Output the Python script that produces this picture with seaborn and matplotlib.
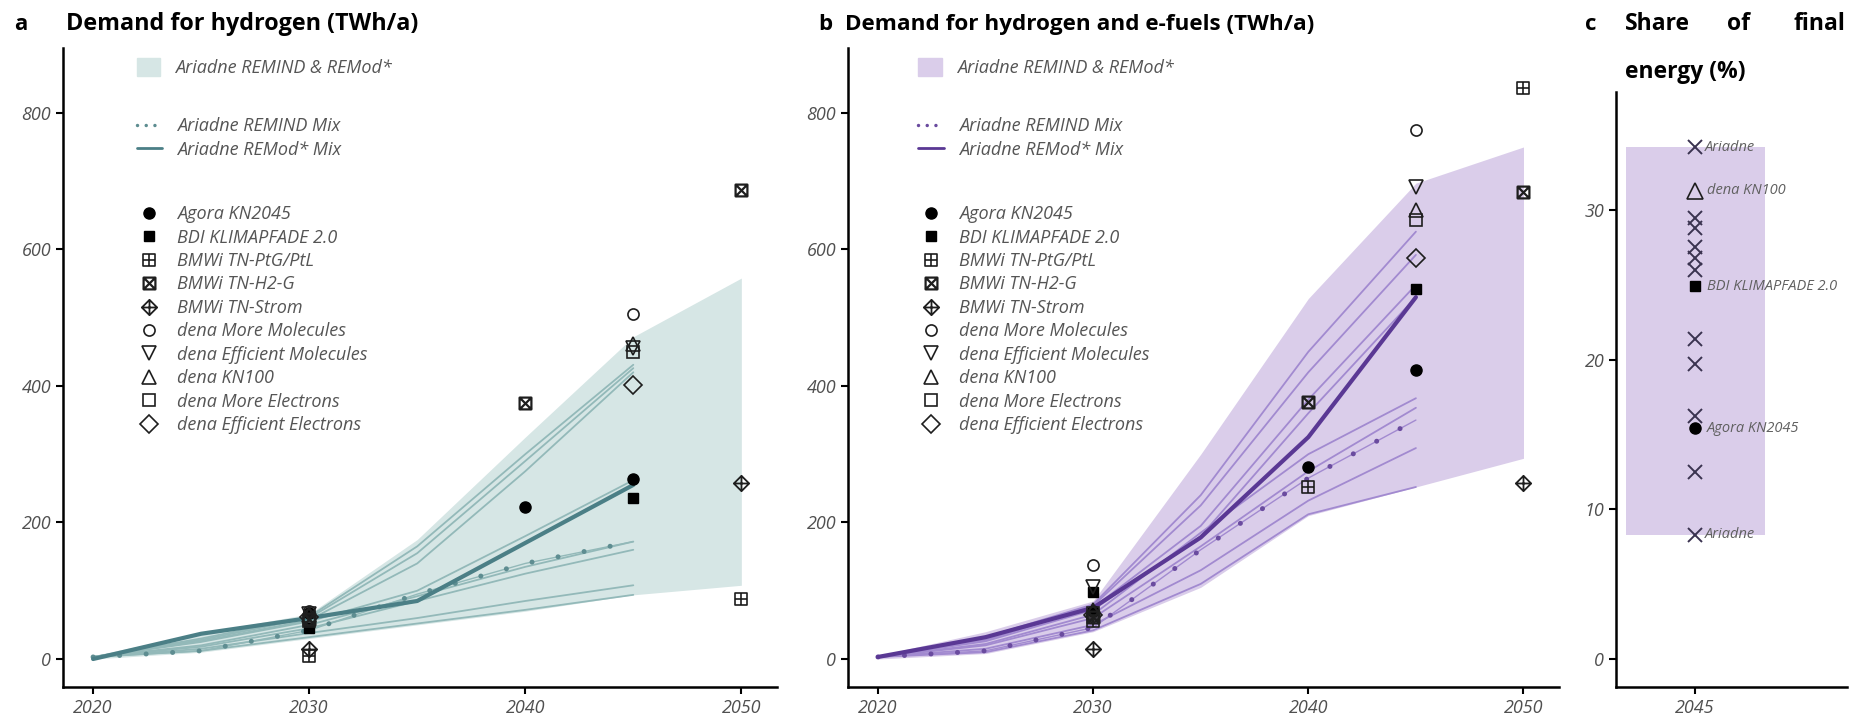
import numpy as np
import pandas as pd
import matplotlib
matplotlib.use("Agg")
import matplotlib.pyplot as plt
import seaborn as sns
from matplotlib.path import Path
from matplotlib.lines import Line2D
from matplotlib.patches import Patch

sns.set_theme(style="ticks")
plt.rcParams['font.family'] = ['Open Sans', 'DejaVu Sans']

# ---------------- data ----------------
line_years = [2020, 2025, 2030, 2035, 2040, 2045]
band_years = [2020, 2025, 2030, 2035, 2040, 2045, 2050]

# panel a: hydrogen
a_band_low = [0, 10, 30, 50, 70, 94, 108]
a_band_high = [5, 38, 66, 175, 325, 472, 558]
a_scenarios = [
    [3, 30, 62, 165, 300, 431],
    [3, 28, 60, 155, 290, 426],
    [3, 26, 57, 140, 275, 420],
    [3, 25, 55, 100, 180, 262],
    [3, 20, 50, 92, 135, 172],
    [3, 18, 45, 85, 125, 160],
    [3, 15, 38, 60, 85, 108],
    [3, 12, 32, 52, 72, 94],
]
a_remind_mix = [3, 12, 42, 95, 140, 172]
a_remod_mix = [0, 37, 60, 85, 170, 255]
a_points = {
    'Agora KN2045': ([2030, 2040, 2045], [68, 223, 264]),
    'BDI KLIMAPFADE 2.0': ([2030, 2045], [45, 236]),
    'BMWi TN-PtG/PtL': ([2030, 2050], [5, 88]),
    'BMWi TN-H2-G': ([2030, 2040, 2050], [58, 375, 687]),
    'BMWi TN-Strom': ([2030, 2050], [15, 258]),
    'dena More Molecules': ([2030, 2045], [70, 505]),
    'dena Efficient Molecules': ([2030, 2045], [66, 455]),
    'dena KN100': ([2030, 2045], [65, 462]),
    'dena More Electrons': ([2030, 2045], [55, 450]),
    'dena Efficient Electrons': ([2030, 2045], [62, 402]),
}

# panel b: hydrogen and e-fuels
b_band_low = [0, 8, 40, 105, 210, 252, 294]
b_band_high = [5, 40, 85, 300, 528, 697, 750]
b_scenarios = [
    [3, 32, 80, 240, 450, 626],
    [3, 30, 78, 225, 420, 592],
    [3, 28, 75, 195, 380, 548],
    [3, 26, 72, 180, 360, 530],
    [3, 22, 65, 185, 300, 382],
    [3, 20, 60, 165, 275, 368],
    [3, 15, 50, 130, 232, 309],
    [3, 10, 42, 110, 212, 252],
]
b_remind_mix = [3, 12, 46, 160, 265, 350]
b_remod_mix = [3, 32, 75, 178, 325, 530]
b_points = {
    'Agora KN2045': ([2030, 2040, 2045], [70, 281, 423]),
    'BDI KLIMAPFADE 2.0': ([2030, 2045], [98, 542]),
    'BMWi TN-PtG/PtL': ([2030, 2040, 2050], [55, 252, 837]),
    'BMWi TN-H2-G': ([2030, 2040, 2050], [62, 376, 684]),
    'BMWi TN-Strom': ([2030, 2050], [15, 258]),
    'dena More Molecules': ([2030, 2045], [138, 775]),
    'dena Efficient Molecules': ([2030, 2045], [105, 692]),
    'dena KN100': ([2030, 2045], [72, 658]),
    'dena More Electrons': ([2030, 2045], [68, 643]),
    'dena Efficient Electrons': ([2030, 2045], [65, 587]),
}

# panel c: share of final energy in 2045
c_band = [8.3, 34.2]
c_ariadne = [34.2, 29.5, 28.8, 27.5, 26.8, 26.0, 21.4, 19.7, 16.2, 12.5, 8.3]
c_dena_kn100 = 31.3
c_bdi = 24.9
c_agora = 15.4

# ---------------- marker shapes ----------------
M, L, C = Path.MOVETO, Path.LINETO, Path.CLOSEPOLY
sq_plus = Path([(-1, -1), (1, -1), (1, 1), (-1, 1), (-1, -1), (0, -1), (0, 1), (-1, 0), (1, 0)],
               [M, L, L, L, C, M, L, M, L])
sq_cross = Path([(-1, -1), (1, -1), (1, 1), (-1, 1), (-1, -1), (-1, -1), (1, 1), (-1, 1), (1, -1)],
                [M, L, L, L, C, M, L, M, L])
dia_plus = Path([(0, -1), (1, 0), (0, 1), (-1, 0), (0, -1), (0, -1), (0, 1), (-1, 0), (1, 0)],
                [M, L, L, L, C, M, L, M, L])

ec = '#1e1e1e'
marker_styles = {
    'Agora KN2045': dict(marker='o', ms=8, mfc='black', mec='black'),
    'BDI KLIMAPFADE 2.0': dict(marker='s', ms=7.5, mfc='black', mec='black'),
    'BMWi TN-PtG/PtL': dict(marker=sq_plus, ms=8.5, mfc='none', mec=ec, mew=1.2),
    'BMWi TN-H2-G': dict(marker=sq_cross, ms=8.5, mfc='none', mec=ec, mew=1.6),
    'BMWi TN-Strom': dict(marker=dia_plus, ms=11, mfc='none', mec=ec, mew=1.3),
    'dena More Molecules': dict(marker='o', ms=8, mfc='none', mec=ec, mew=1.2),
    'dena Efficient Molecules': dict(marker='v', ms=10, mfc='none', mec=ec, mew=1.2),
    'dena KN100': dict(marker='^', ms=10, mfc='none', mec=ec, mew=1.2),
    'dena More Electrons': dict(marker='s', ms=8.5, mfc='none', mec=ec, mew=1.2),
    'dena Efficient Electrons': dict(marker='D', ms=9, mfc='none', mec=ec, mew=1.2),
}

tick_col = '#505050'


def style_axis(ax):
    for s in ['top', 'right']:
        ax.spines[s].set_visible(False)
    for s in ['left', 'bottom']:
        ax.spines[s].set_linewidth(1.8)
        ax.spines[s].set_color('black')
    ax.tick_params(direction='out', length=5, width=1.5, colors='black',
                   labelcolor=tick_col, labelsize=13)
    for lab in ax.get_xticklabels() + ax.get_yticklabels():
        lab.set_style('italic')
    ax.set_xlabel('')
    ax.set_ylabel('')


def draw_panel(ax, band_low, band_high, scenarios, remind, remod, points,
               band_col, thin_col, mix_col, dot_col, x0):
    ax.fill_between(band_years, band_low, band_high, color=band_col, lw=0, zorder=1)
    df = pd.DataFrame([(i, y, v) for i, s in enumerate(scenarios) for y, v in zip(line_years, s)],
                      columns=['scen', 'year', 'value'])
    sns.lineplot(data=df, x='year', y='value', units='scen', estimator=None,
                 color=thin_col, lw=1.3, ax=ax, legend=False, zorder=2)
    ax.plot(line_years, remind, color=thin_col, lw=1.0, zorder=3)
    ax.plot(line_years, remind, color=dot_col, lw=3.6, linestyle=(0, (0.01, 5.3)),
            dash_capstyle='round', zorder=3)
    sns.lineplot(x=line_years, y=remod, color=mix_col, lw=3.0, ax=ax, zorder=4)
    for name, (xs, ys) in points.items():
        ax.plot(xs, ys, ls='none', zorder=6, **marker_styles[name])

    ax.set_xlim(2020 - 30 / 21.55, 2051.65)
    ax.set_ylim(-41, 895)
    ax.set_xticks([2020, 2030, 2040, 2050])
    ax.set_yticks([0, 200, 400, 600, 800])
    style_axis(ax)

    leg_kw = dict(frameon=False, prop={'size': 13, 'style': 'italic'}, labelcolor='#555555',
                  handletextpad=0.85, borderpad=0, borderaxespad=0,
                  labelspacing=0.3, loc='center left')
    l1 = ax.legend([Patch(color=band_col)], ['Ariadne REMIND & REMod*'],
                   bbox_to_anchor=(x0, 0.969), handleheight=1.1, handlelength=1.3, **leg_kw)
    ax.add_artist(l1)
    l2 = ax.legend([Line2D([], [], color=dot_col, lw=2.5, linestyle=(0, (0.01, 2.5)), dash_capstyle='round'),
                    Line2D([], [], color=mix_col, lw=2.0)],
                   ['Ariadne REMIND Mix', 'Ariadne REMod* Mix'],
                   bbox_to_anchor=(x0, 0.859), handlelength=1.4, **leg_kw)
    ax.add_artist(l2)
    handles = [Line2D([], [], ls='none', **marker_styles[n]) for n in points]
    ax.legend(handles, list(points), bbox_to_anchor=(x0, 0.575), handlelength=1.4, **leg_kw)


fig = plt.figure(figsize=(18.52, 7.23), dpi=100)
W, H = 1852, 723
ax_a = fig.add_axes([63 / W, 36 / H, 714 / W, 639 / H])
ax_b = fig.add_axes([848 / W, 36 / H, 711 / W, 639 / H])
ax_c = fig.add_axes([1616 / W, 36 / H, 231 / W, 595 / H])

draw_panel(ax_a, a_band_low, a_band_high, a_scenarios, a_remind_mix, a_remod_mix, a_points,
           '#d6e6e5', '#93b9b9', '#4b7f86', '#5e8d91', 0.103)
draw_panel(ax_b, b_band_low, b_band_high, b_scenarios, b_remind_mix, b_remod_mix, b_points,
           '#dacdea', '#a28ad0', '#5a3894', '#6a4b9f', 0.099)

# panel c
ax_c.fill_between([-0.69, 0.70], c_band[0], c_band[1], color='#dacdea', lw=0, zorder=1)
ax_c.plot([0] * len(c_ariadne), c_ariadne, ls='none', marker='x', ms=10, mew=1.4,
          color='#3a3350', zorder=4)
ax_c.plot([0], [c_dena_kn100], ls='none', zorder=5, **dict(marker_styles['dena KN100'], ms=11))
ax_c.plot([0], [c_bdi], ls='none', zorder=5, **marker_styles['BDI KLIMAPFADE 2.0'])
ax_c.plot([0], [c_agora], ls='none', zorder=5, **marker_styles['Agora KN2045'])
ann = dict(fontsize=10.5, style='italic', color='#606060', va='center', ha='left')
ax_c.text(0.1, c_ariadne[0], 'Ariadne', **ann)
ax_c.text(0.1, c_ariadne[-1], 'Ariadne', **ann)
ax_c.text(0.12, c_dena_kn100, 'dena KN100', **ann)
ax_c.text(0.12, c_bdi, 'BDI KLIMAPFADE 2.0', **ann)
ax_c.text(0.12, c_agora, 'Agora KN2045', **ann)
ax_c.set_xlim(-0.79, 1.52)
ax_c.set_ylim(-1.9, 37.9)
ax_c.set_xticks([0])
ax_c.set_xticklabels(['2045'])
ax_c.set_yticks([0, 10, 20, 30])
style_axis(ax_c)

# panel letters and titles
tfont = dict(family=['Open Sans', 'DejaVu Sans'], weight='bold', color='black')
fig.text(14 / W, 1 - 30 / H, 'a', fontsize=16, va='baseline', **tfont)
fig.text(66 / W, 1 - 30 / H, 'Demand for hydrogen (TWh/a)', fontsize=16.8, va='baseline', **tfont)
fig.text(818 / W, 1 - 30 / H, 'b', fontsize=16, va='baseline', **tfont)
fig.text(845 / W, 1 - 30 / H, 'Demand for hydrogen and e-fuels (TWh/a)', fontsize=16.2, va='baseline', **tfont)
fig.text(1585 / W, 1 - 30 / H, 'c', fontsize=16, va='baseline', **tfont)
fig.text(1625 / W, 1 - 30 / H, 'Share', fontsize=16.5, va='baseline', **tfont)
fig.text(1727 / W, 1 - 30 / H, 'of', fontsize=16.5, va='baseline', **tfont)
fig.text(1845 / W, 1 - 30 / H, 'final', fontsize=16.5, va='baseline', ha='right', **tfont)
fig.text(1625 / W, 1 - 78 / H, 'energy (%)', fontsize=16.5, va='baseline', **tfont)

fig.savefig('out.png', dpi=100, facecolor='white')
